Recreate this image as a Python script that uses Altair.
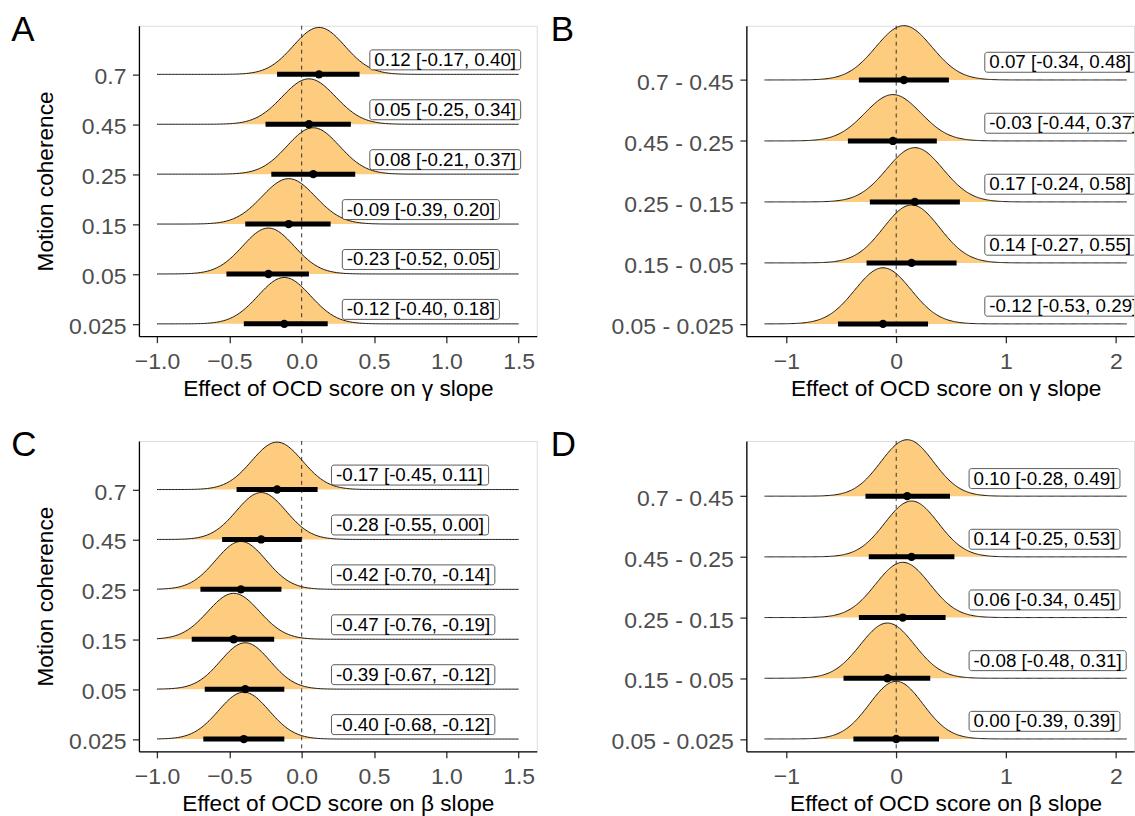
import altair as alt
import pandas as pd

FONT = "Liberation Sans"
FILL = "#FDCC7E"

# ---------------- data ----------------
# Panel A: effect on gamma slope per motion coherence (top -> bottom)
a_levels = ["0.7", "0.45", "0.25", "0.15", "0.05", "0.025"]
a_mean = [0.12, 0.05, 0.08, -0.09, -0.23, -0.12]
a_low = [-0.17, -0.25, -0.21, -0.39, -0.52, -0.40]
a_up = [0.40, 0.34, 0.37, 0.20, 0.05, 0.18]
a_peak = [0.94, 0.91, 0.93, 0.91, 0.92, 0.93]

# Panel B: differences, gamma slope
b_levels = ["0.7 - 0.45", "0.45 - 0.25", "0.25 - 0.15", "0.15 - 0.05", "0.05 - 0.025"]
b_mean = [0.07, -0.03, 0.17, 0.14, -0.12]
b_low = [-0.34, -0.44, -0.24, -0.27, -0.53]
b_up = [0.48, 0.37, 0.58, 0.55, 0.29]
b_peak = [0.89, 0.76, 0.89, 0.95, 0.92]

# Panel C: effect on beta slope per motion coherence
c_levels = ["0.7", "0.45", "0.25", "0.15", "0.05", "0.025"]
c_mean = [-0.17, -0.28, -0.42, -0.47, -0.39, -0.40]
c_low = [-0.45, -0.55, -0.70, -0.76, -0.67, -0.68]
c_up = [0.11, 0.00, -0.14, -0.19, -0.12, -0.12]
c_peak = [0.95, 0.94, 0.96, 0.92, 0.93, 0.94]

# Panel D: differences, beta slope
d_levels = ["0.7 - 0.45", "0.45 - 0.25", "0.25 - 0.15", "0.15 - 0.05", "0.05 - 0.025"]
d_mean = [0.10, 0.14, 0.06, -0.08, 0.00]
d_low = [-0.28, -0.25, -0.34, -0.48, -0.39]
d_up = [0.49, 0.53, 0.45, 0.31, 0.39]
d_peak = [0.93, 0.92, 0.91, 0.91, 0.95]

x_ticks_ab = [-1.0, -0.5, 0.0, 0.5, 1.0, 1.5]
x_ticks_bd = [-1, 0, 1, 2]

# ---------------- layout constants ----------------
LABEL_FS = 18.8
CHARW = {".": 0.278, " ": 0.278, "[": 0.278, "]": 0.278, "-": 0.333, ",": 0.278}


def text_width(s, fs):
    return sum(CHARW.get(ch, 0.556) for ch in s) * fs


def axis_common():
    return dict(
        labelFont=FONT, labelFontSize=23, labelColor="#4D4D4D",
        titleFont=FONT, titleFontSize=22.7, titleColor="black", titleFontWeight="normal",
        domainColor="black", domainWidth=1.3, tickColor="#333333", tickWidth=1.3,
        tickSize=6.5, grid=False, labelFlush=False, labelOverlap=False,
    )


def panel(levels, mean, low, up, peak, letter, xrange_, xdom, ydom, W, H,
          xticks, xfmt, xtitle, ytitle, label_left, letter_dx, title_cx):
    n = len(levels)
    ppu = W / (xdom[1] - xdom[0])
    ppy = H / (ydom[1] - ydom[0])
    labels = [f"{m:.2f} [{l:.2f}, {u:.2f}]" for m, l, u in zip(mean, low, up)]
    idx = [n - 1 - i for i in range(n)]
    df = pd.DataFrame({
        "name": levels, "idx": idx, "mean": mean, "lower": low, "upper": up,
        "peak": peak, "label": labels,
    })
    df["lx"] = label_left
    df["lx2"] = [lx + (text_width(s, LABEL_FS) + 9) / ppu for lx, s in zip(label_left, labels)]
    df["tx"] = [lx + 4.5 / ppu for lx in label_left]
    df["ly"] = [i + 0.29 for i in idx]
    df["ly1"] = [i + 0.29 - 10 / ppy for i in idx]
    df["ly2"] = [i + 0.29 + 10 / ppy for i in idx]

    xs = alt.Scale(domain=xdom, nice=False, zero=False)
    ys = alt.Scale(domain=ydom, nice=False, zero=False)
    label_arr = "[" + ",".join("'" + levels[n - 1 - k] + "'" for k in range(n)) + "]"

    xaxis = alt.Axis(values=xticks, format=xfmt, labelPadding=7.5,
                     titleX=title_cx, titleY=59, titleBaseline="alphabetic", titleAlign="center",
                     **axis_common())
    yaxis_kw = dict(values=list(range(n)), labelExpr=label_arr + "[datum.value]",
                    labelPadding=6.5, labelOffset=2.5, **axis_common())
    if ytitle:
        yaxis_kw.update(titleX=-93.6, titleY=H / 2, titleAngle=-90,
                        titleBaseline="middle", titleAlign="center")
    yaxis = alt.Axis(**yaxis_kw)

    def X(field):
        return alt.X(field, scale=xs, axis=xaxis, title=xtitle)

    def Y(field):
        return alt.Y(field, scale=ys, axis=yaxis, title=ytitle)

    step = 0.01
    dens = (
        alt.Chart(df)
        .transform_calculate(
            sd="(datum.upper - datum.lower) / 3.2",
            xs=f"sequence({xrange_[0]}, {xrange_[1] + step / 2}, {step})",
        )
        .transform_flatten(["xs"])
        .transform_calculate(
            dens="datum.idx + datum.peak * exp(-0.5 * pow((datum.xs - datum.mean) / datum.sd, 2))"
        )
    )
    area = dens.mark_area(color=FILL, opacity=1).encode(
        x=X("xs:Q"), y=Y("dens:Q"), y2=alt.Y2("idx:Q"), detail="name:N",
    )
    outline = dens.mark_line(color="black", strokeWidth=0.9).encode(
        x=X("xs:Q"), y=Y("dens:Q"), detail="name:N",
    )
    vline = alt.Chart(pd.DataFrame({"z": [0.0]})).mark_rule(
        color="#333333", strokeDash=[4, 4], strokeWidth=1
    ).encode(x=X("z:Q"))
    base = alt.Chart(df)
    interval = base.mark_rule(color="black", strokeWidth=5, strokeCap="butt").encode(
        x=X("lower:Q"), x2="upper:Q", y=Y("idx:Q"),
    )
    point = base.mark_circle(color="black", size=70, opacity=1).encode(
        x=X("mean:Q"), y=Y("idx:Q"),
    )
    box = base.mark_rect(fill="white", stroke="#333333", strokeWidth=0.8,
                         cornerRadius=2.5, clip=True).encode(
        x=X("lx:Q"), x2="lx2:Q", y=Y("ly1:Q"), y2="ly2:Q",
    )
    txt = base.mark_text(align="left", baseline="middle", font=FONT,
                         fontSize=LABEL_FS, color="black", clip=True).encode(
        x=X("tx:Q"), y=Y("ly:Q"), text="label:N",
    )
    let = alt.Chart(pd.DataFrame({"t": [letter]})).mark_text(
        align="left", baseline="alphabetic", font=FONT, fontSize=35, color="black"
    ).encode(x=alt.value(letter_dx), y=alt.value(15), text="t:N")

    return alt.layer(area, outline, vline, interval, point, box, txt, let).properties(
        width=W, height=H
    )


gamma_title = "Effect of OCD score on \u03b3 slope"
beta_title = "Effect of OCD score on \u03b2 slope"

WA = 398.6
WB = 388.5
H = 311
xdom_a = [-1.125, 1.625]
xdom_b = [-1.365, 2.167]
ydom_a = [-0.246, 5.974]
ydom_b = [-0.201, 4.889]
ydom_d = [-0.204, 4.91]
title_cx_a = WA / 2
title_cx_b = (2.265 + 1.365) * 110 / 2

pA = panel(a_levels, a_mean, a_low, a_up, a_peak, "A", (-1.0, 1.5), xdom_a, ydom_a, WA, H,
           x_ticks_ab, ".1f", gamma_title, "Motion coherence",
           [0.471, 0.471, 0.471, 0.281, 0.281, 0.281], -128, title_cx_a)
pB = panel(b_levels, b_mean, b_low, b_up, b_peak, "B", (-1.2, 2.1), xdom_b, ydom_b, WB, H,
           x_ticks_bd, "d", gamma_title, "", [0.807] * 5, -196, title_cx_b)
pC = panel(c_levels, c_mean, c_low, c_up, c_peak, "C", (-1.0, 1.5), xdom_a, ydom_a, WA, H,
           x_ticks_ab, ".1f", beta_title, "Motion coherence", [0.206] * 6, -128, title_cx_a)
pD = panel(d_levels, d_mean, d_low, d_up, d_peak, "D", (-1.2, 2.1), xdom_b, ydom_d, WB, H,
           x_ticks_bd, "d", beta_title, "", [0.664] * 5, -196, title_cx_b)

chart = (
    alt.concat(pA, pB, pC, pD, columns=2, spacing={"row": 105, "column": 209.6},
               bounds="flush", align="each")
    .resolve_scale(x="independent", y="independent")
    .properties(padding={"left": 10.2, "top": 11, "right": 0, "bottom": 0},
                background="white")
    .configure_view(strokeWidth=0, stroke="transparent")
    .configure(font=FONT)
)

chart.save("out.html", embed_options={"renderer": "svg", "actions": False})
